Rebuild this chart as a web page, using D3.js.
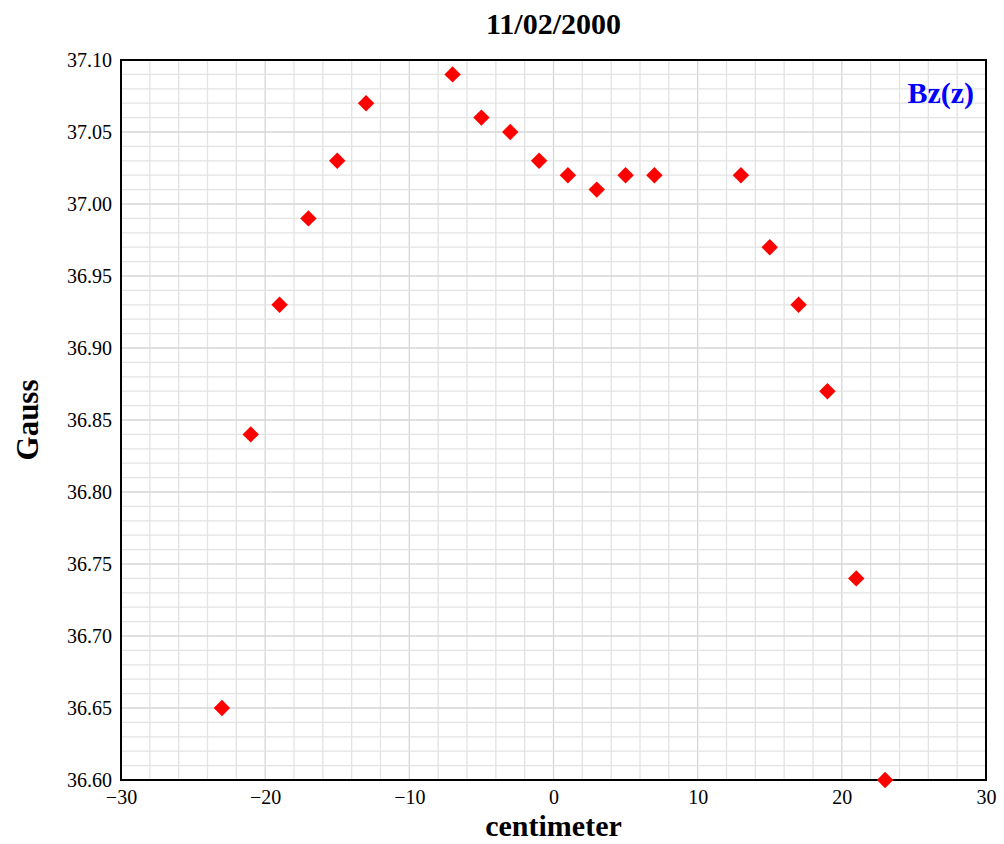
<!DOCTYPE html>
<html>
<head>
<meta charset="utf-8">
<script src="https://cdn.jsdelivr.net/npm/d3@7"></script>
<style>
  body { margin: 0; background: #fff; }
  text { font-family: "Liberation Serif", "Times New Roman", serif; }
</style>
</head>
<body>
<svg width="1004" height="844"></svg>
<script>
// data
var zPos = [-23, -21, -19, -17, -15, -13, -7, -5, -3, -1, 1, 3, 5, 7, 13, 15, 17, 19, 21, 23];
var bz = [36.65, 36.84, 36.93, 36.99, 37.03, 37.07, 37.09, 37.06, 37.05, 37.03, 37.02, 37.01, 37.02, 37.02, 37.02, 36.97, 36.93, 36.87, 36.74, 36.60];
var xTicks = [-30, -20, -10, 0, 10, 20, 30];
var yTicks = [36.60, 36.65, 36.70, 36.75, 36.80, 36.85, 36.90, 36.95, 37.00, 37.05, 37.10];

var svg = d3.select("svg");
var margin = {top: 60, right: 18, bottom: 64, left: 121};
var width = 1004 - margin.left - margin.right,
    height = 844 - margin.top - margin.bottom;

var x = d3.scaleLinear().domain([-30, 30]).range([0, width]);
var y = d3.scaleLinear().domain([36.60, 37.10]).range([height, 0]);

var g = svg.append("g").attr("transform", "translate(" + margin.left + "," + margin.top + ")");

// grid, every 2 cm and every 0.01 G
g.append("g").selectAll("line")
  .data(d3.range(-30, 31, 2))
  .enter().append("line")
  .attr("x1", function(d) { return x(d); })
  .attr("x2", function(d) { return x(d); })
  .attr("y1", 0).attr("y2", height)
  .attr("stroke", function(d) { return d % 10 === 0 ? "#d6d6d6" : "#e3e3e3"; })
  .attr("stroke-width", 1.3);

g.append("g").selectAll("line")
  .data(d3.range(0, 51))
  .enter().append("line")
  .attr("x1", 0).attr("x2", width)
  .attr("y1", function(d) { return y(36.60 + d * 0.01); })
  .attr("y2", function(d) { return y(36.60 + d * 0.01); })
  .attr("stroke", function(d) { return d % 5 === 0 ? "#d6d6d6" : "#e3e3e3"; })
  .attr("stroke-width", 1.3);

// frame
g.append("rect")
  .attr("width", width).attr("height", height)
  .attr("fill", "none").attr("stroke", "#000").attr("stroke-width", 2);

// axes
var xAxis = g.append("g")
  .attr("transform", "translate(0," + height + ")")
  .call(d3.axisBottom(x).tickValues(xTicks).tickSize(0).tickPadding(10)
    .tickFormat(function(d) { return d < 0 ? "\u2212" + Math.abs(d) : d; }));
xAxis.select(".domain").remove();
xAxis.selectAll("text").attr("font-size", 20).attr("fill", "#000")
  .style("font-family", "Liberation Serif, serif");

var yAxis = g.append("g")
  .call(d3.axisLeft(y).tickValues(yTicks).tickSize(0).tickPadding(9)
    .tickFormat(d3.format(".2f")));
yAxis.select(".domain").remove();
yAxis.selectAll("text").attr("font-size", 20).attr("fill", "#000")
  .style("font-family", "Liberation Serif, serif");

// points
g.append("g").selectAll("path")
  .data(zPos)
  .enter().append("path")
  .attr("d", d3.symbol().type(d3.symbolSquare).size(135))
  .attr("transform", function(d, i) {
    return "translate(" + x(d) + "," + y(bz[i]) + ") rotate(45)";
  })
  .attr("fill", "#ff0000");

// labels
svg.append("text")
  .attr("x", margin.left + width / 2).attr("y", 34)
  .attr("text-anchor", "middle").attr("font-size", 30).attr("font-weight", "bold")
  .text("11/02/2000");

svg.append("text")
  .attr("x", margin.left + width / 2).attr("y", 836)
  .attr("text-anchor", "middle").attr("font-size", 30).attr("font-weight", "bold")
  .text("centimeter");

svg.append("text")
  .attr("transform", "translate(38," + (margin.top + height / 2) + ") rotate(-90)")
  .attr("text-anchor", "middle").attr("font-size", 31).attr("font-weight", "bold")
  .text("Gauss");

svg.append("text")
  .attr("x", margin.left + width - 12).attr("y", 103)
  .attr("text-anchor", "end").attr("font-size", 30).attr("font-weight", "bold")
  .attr("fill", "#0000ff")
  .text("Bz(z)");
</script>
</body>
</html>
